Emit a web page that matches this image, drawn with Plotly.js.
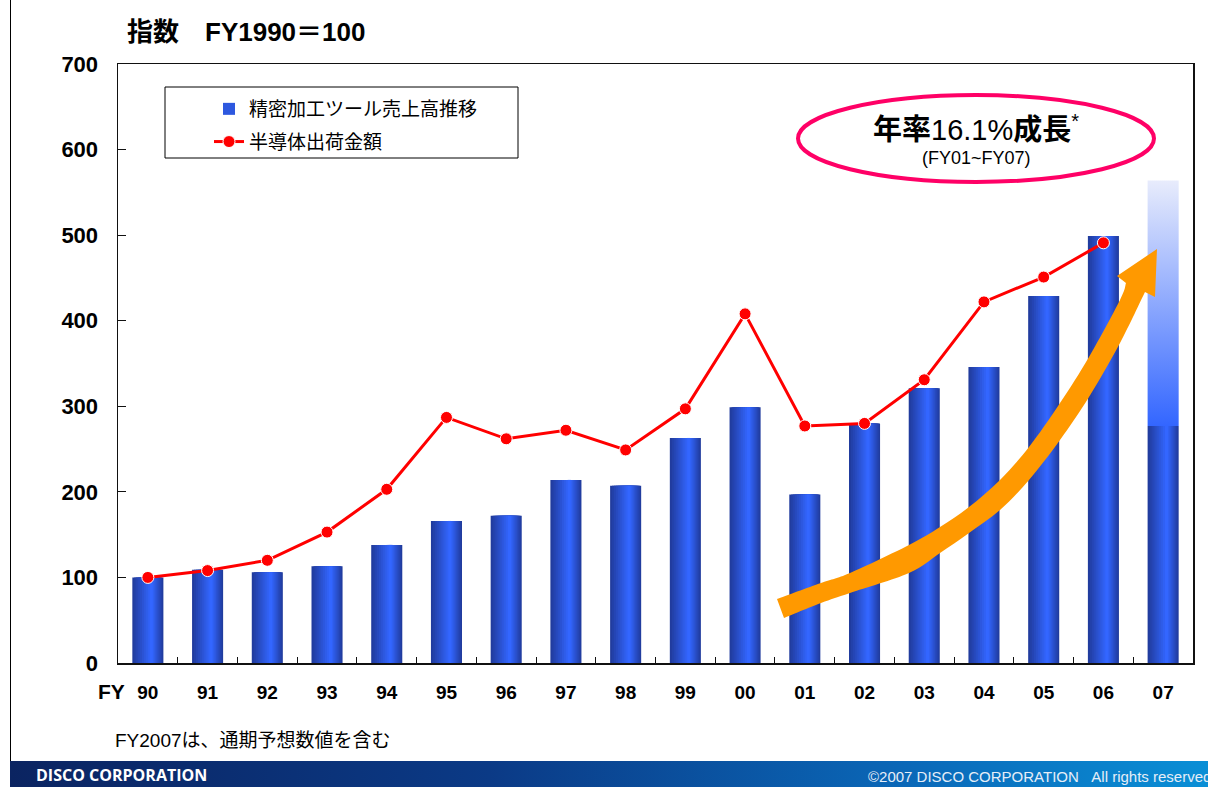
<!DOCTYPE html>
<html>
<head>
<meta charset="utf-8">
<script src="https://cdn.plot.ly/plotly-3.0.1.min.js"></script>
<style>
  html, body { margin:0; padding:0; background:#fff; width:1208px; height:787px; overflow:hidden; }
  #chart { position:absolute; left:0; top:0; width:1208px; height:787px; }
  #leftline { position:absolute; left:10px; top:0; width:1px; height:761px; background:#000; z-index:5; }
  #footer { position:absolute; left:10px; top:761px; width:1198px; height:26px; z-index:5; overflow:hidden;
    background:linear-gradient(to right, #0b2461 0%, #0b3a86 40%, #0a68b8 75%, #0a8fd6 100%); }
  #footer .l { position:absolute; left:26px; top:3px; color:#fff; font-family:"Open Sans","Noto Sans",sans-serif; font-weight:700; font-size:16px; }
  #footer .r { position:absolute; left:858px; top:7px; color:#e6eef8; font-family:"Liberation Sans",Arial,sans-serif; font-size:15px; white-space:nowrap; }
</style>
</head>
<body>
<div id="chart"></div>
<div id="leftline"></div>
<div id="footer"><span class="l">DISCO CORPORATION</span><span class="r">©2007 DISCO CORPORATION&nbsp;&nbsp;&nbsp;All rights reserved</span></div>
<script>
// ---- data ----
const categories = ['90','91','92','93','94','95','96','97','98','99','00','01','02','03','04','05','06','07'];
const toolSales = [100,109,106,113,138,166,172,214,207,263,299,197,280,321,346,429,499,277];
const toolSales07Forecast = 564;
const semiShipments = [100,108,120,153,203,287,262,272,249,297,408,277,280,331,422,451,491,null];
const seriesNames = ['精密加工ツール売上高推移','半導体出荷金額'];
const growthText = '16.1%';
const growthPeriod = '(FY01~FY07)';

// ---- layout helpers ----
const FONT = '"Liberation Sans", Arial, "Noto Sans CJK JP", sans-serif';
const L = 118, R = 1193, T = 64, B = 663;
const PX = X => (X - L) / (R - L);
const PY = Y => (B - Y) / (B - T);
const xIdx = categories.map((c, i) => i);

function hex2rgb(h){ return [1,3,5].map(i => parseInt(h.substr(i,2),16)); }
function mix(a, b, t){ const A = hex2rgb(a), Bc = hex2rgb(b); return 'rgb(' + A.map((v,i)=>Math.round(v + (Bc[i]-v)*t)).join(',') + ')'; }

const W = 0.52, PEAK = 0.62, N = 10;
const dark = '#213c9e', bright = '#3366ff';
const traces = [];
for (let k = 0; k < N; k++) {
  const t = k / N;
  const l = PEAK * t, r = PEAK + (1 - PEAK) * (1 - t);
  traces.push({
    type: 'bar', x: xIdx, y: toolSales,
    width: W * (r - l), offset: -W/2 + W * l,
    marker: { color: mix(dark, bright, k / (N - 1)), line: { width: 0 } },
    name: seriesNames[0], legendgroup: 'g1', legendrank: 1,
    showlegend: k === 6, hoverinfo: 'skip'
  });
}
// FY07 forecast portion (vertical gradient)
const i07 = categories.length - 1;
traces.push({
  type: 'scatter', mode: 'lines',
  x: [i07 - W/2, i07 + W/2, i07 + W/2, i07 - W/2, i07 - W/2],
  y: [toolSales[i07], toolSales[i07], toolSales07Forecast, toolSales07Forecast, toolSales[i07]],
  fill: 'toself', line: { width: 0, color: 'rgba(0,0,0,0)' },
  fillgradient: { type: 'vertical', colorscale: [[0, '#3366ff'], [1, '#e8ecfc']] },
  showlegend: false, hoverinfo: 'skip'
});
traces.push({
  type: 'scatter', mode: 'lines+markers', x: xIdx, y: semiShipments,
  name: seriesNames[1], legendgroup: 'g2', legendrank: 2,
  line: { color: '#ff0000', width: 3 },
  marker: { color: '#ff0000', size: 12, line: { color: '#ffffff', width: 1 } },
  connectgaps: false
});

// arrow (decoration) in pixel coords -> paper
const upper = [[777,599],[821,583],[850,573],[909,545],[940,527],[969,507],[1000,480],[1029,447],[1060,403],[1089,357],[1120,300],[1126,283]];
const lower = [[1145,292],[1120,343],[1089,397],[1060,440],[1029,480],[1000,510],[969,533],[940,553],[909,573],[850,593],[821,603],[784,618]];
function smooth(pts){
  let s = '';
  for (let i = 0; i < pts.length - 1; i++) {
    const p0 = pts[Math.max(0,i-1)], p1 = pts[i], p2 = pts[i+1], p3 = pts[Math.min(pts.length-1,i+2)];
    const c1 = [p1[0] + (p2[0]-p0[0])/6, p1[1] + (p2[1]-p0[1])/6];
    const c2 = [p2[0] - (p3[0]-p1[0])/6, p2[1] - (p3[1]-p1[1])/6];
    s += ` C ${PX(c1[0])},${PY(c1[1])} ${PX(c2[0])},${PY(c2[1])} ${PX(p2[0])},${PY(p2[1])}`;
  }
  return s;
}
const P = p => `${PX(p[0])},${PY(p[1])}`;
let arrowPath = 'M ' + P(upper[0]) + smooth(upper) +
  ' L ' + P([1117,276]) + ' L ' + P([1157,249]) + ' L ' + P([1155,297]) + ' L ' + P(lower[0]) +
  smooth(lower) + ' Z';

const halfTicks = xIdx.slice(0, -1).map(i => i + 0.5);

const layout = {
  width: 1208, height: 787,
  margin: { l: L, r: 1208 - R, t: T, b: 787 - B, pad: 0 },
  paper_bgcolor: '#ffffff', plot_bgcolor: '#ffffff',
  barmode: 'overlay', showlegend: true,
  font: { family: FONT, color: '#000' },
  xaxis: {
    range: [-0.5, categories.length - 0.5], tickmode: 'array', tickvals: xIdx, ticktext: categories,
    ticks: '', showgrid: false, zeroline: false, showline: true, mirror: true, linecolor: '#111', linewidth: 1.5,
    tickfont: { family: FONT, size: 19, weight: 'bold', color: '#000' }, ticklabelstandoff: 12,
    minor: { tickmode: 'array', tickvals: halfTicks, ticks: 'inside', ticklen: 6, tickwidth: 1, tickcolor: '#111', showgrid: false },
    fixedrange: true
  },
  yaxis: {
    range: [0, 700], dtick: 100, ticks: 'inside', ticklen: 8, tickwidth: 1, tickcolor: '#111',
    showgrid: false, zeroline: false, showline: true, mirror: true, linecolor: '#111', linewidth: 1.5,
    tickfont: { family: FONT, size: 22, weight: 'bold', color: '#000' }, ticklabelstandoff: 14,
    fixedrange: true
  },
  legend: {
    x: PX(209), y: PY(90), xanchor: 'left', yanchor: 'top',
    bgcolor: 'rgba(0,0,0,0)', borderwidth: 0,
    font: { family: FONT, size: 19, color: '#000' },
    traceorder: 'grouped', tracegroupgap: 5
  },
  shapes: [
    { type: 'rect', xref: 'paper', yref: 'paper', x0: PX(165), x1: PX(518), y0: PY(158), y1: PY(87),
      line: { color: '#000', width: 1 }, fillcolor: 'rgba(0,0,0,0)', layer: 'above' },
    { type: 'path', xref: 'paper', yref: 'paper', path: arrowPath, fillcolor: '#ff9900',
      line: { color: 'rgba(0,0,0,0)', width: 0 }, layer: 'above' },
    { type: 'circle', xref: 'paper', yref: 'paper', x0: PX(798), x1: PX(1154), y0: PY(182), y1: PY(95),
      line: { color: '#ff0066', width: 4 }, fillcolor: 'rgba(0,0,0,0)', layer: 'above' }
  ],
  annotations: [
    { xref: 'paper', yref: 'paper', x: PX(125), y: PY(32), xanchor: 'left', yanchor: 'middle', showarrow: false,
      text: '<b>指数　FY1990＝100</b>', font: { family: FONT, size: 26, color: '#000' } },
    { xref: 'paper', yref: 'paper', x: PX(111), y: PY(691), xanchor: 'center', yanchor: 'middle', showarrow: false,
      text: '<b>FY</b>', font: { family: FONT, size: 21, color: '#000' } },
    { xref: 'paper', yref: 'paper', x: PX(976), y: PY(128), xanchor: 'center', yanchor: 'middle', showarrow: false,
      text: '<b>年率</b>' + growthText + '<b>成長</b><sup><span style="font-size:20px">*</span></sup>', font: { family: FONT, size: 29, color: '#000' } },
    { xref: 'paper', yref: 'paper', x: PX(976), y: PY(158), xanchor: 'center', yanchor: 'middle', showarrow: false,
      text: growthPeriod, font: { family: FONT, size: 18, color: '#000' } },
    { xref: 'paper', yref: 'paper', x: PX(113), y: PY(740), xanchor: 'left', yanchor: 'middle', showarrow: false,
      text: 'FY2007は、通期予想数値を含む', font: { family: FONT, size: 19, color: '#000' } }
  ]
};

Plotly.newPlot('chart', traces, layout, { displayModeBar: false, staticPlot: true });
</script>
</body>
</html>
